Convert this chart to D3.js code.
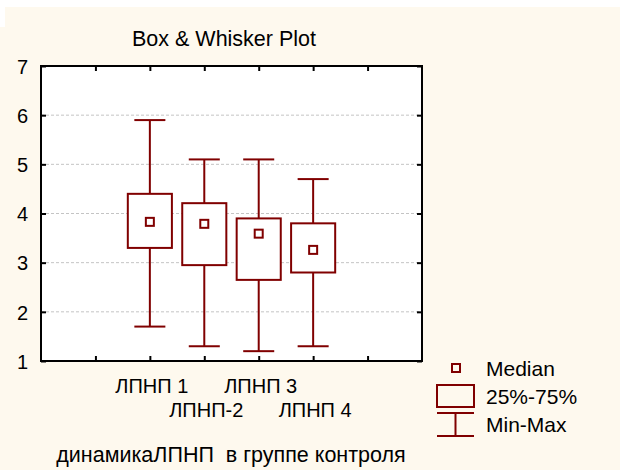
<!DOCTYPE html>
<html><head><meta charset="utf-8">
<script src="https://cdn.jsdelivr.net/npm/d3@7"></script>
<style>body{margin:0;background:#fff}svg{display:block}text{font-family:"Liberation Sans",Arial,sans-serif;fill:#000}</style>
</head><body><svg id="c" width="620" height="470"></svg>
<script>
const categories = ["ЛПНП 1", "ЛПНП-2", "ЛПНП 3", "ЛПНП 4"];
const minVals    = [1.7, 1.3, 1.2, 1.3];
const q1Vals     = [3.3, 2.95, 2.65, 2.8];
const medianVals = [3.83, 3.79, 3.59, 3.26];
const q3Vals     = [4.4, 4.21, 3.9, 3.8];
const maxVals    = [5.9, 5.1, 5.1, 4.7];
const yTicks     = [1, 2, 3, 4, 5, 6, 7];
const legendLabels = ["Median", "25%-75%", "Min-Max"];
const title = "Box & Whisker Plot";
const xTitle = "динамикаЛПНП  в группе контроля";

const svg = d3.select("#c");
const red = "#800000";
// background
svg.append("rect").attr("width",620).attr("height",470).attr("fill","#fef9ee");
svg.append("rect").attr("width",620).attr("height",7).attr("fill","#fff");
svg.append("rect").attr("width",5).attr("height",27).attr("fill","#fff");

const L=41, R=422, T=66, B=361;
const nSlots = categories.length + 3;
const x = d3.scaleLinear().domain([0, nSlots]).range([L, R]);
const y = d3.scaleLinear().domain([1, 7]).range([B, T]);
const step = x(1) - x(0);
const pos = i => x(i + 2);

svg.append("rect").attr("x",L).attr("y",T).attr("width",R-L).attr("height",B-T).attr("fill","#fff");

// gridlines
svg.append("g").selectAll("line").data(yTicks.slice(1,-1)).join("line")
  .attr("x1",L).attr("x2",R).attr("y1",d=>y(d)).attr("y2",d=>y(d))
  .attr("stroke","#c4c4c4").attr("stroke-width",1).attr("stroke-dasharray","3,2");

// axes with inward ticks
const tickIdx = d3.range(1, nSlots);
const axB = d3.axisBottom(x).tickValues(tickIdx).tickSize(-5).tickFormat("");
const axT = d3.axisTop(x).tickValues(tickIdx).tickSize(-5).tickFormat("");
const axL = d3.axisLeft(y).tickValues(yTicks).tickSize(-5).tickPadding(13).tickFormat(d3.format("d"));
const axR = d3.axisRight(y).tickValues(yTicks).tickSize(-5).tickFormat("");
function style(g){ g.select(".domain").remove(); g.selectAll("line").attr("stroke","#000").attr("stroke-width",2); }
svg.append("g").attr("transform",`translate(0,${B})`).call(axB).call(style);
svg.append("g").attr("transform",`translate(0,${T})`).call(axT).call(style);
const gl = svg.append("g").attr("transform",`translate(${L},0)`).call(axL).call(style);
gl.selectAll("text").attr("font-size",20).attr("fill","#000").attr("font-family","Liberation Sans, Arial, sans-serif").attr("dy","0.36em");
svg.append("g").attr("transform",`translate(${R},0)`).call(axR).call(style);
svg.append("rect").attr("x",L).attr("y",T).attr("width",R-L).attr("height",B-T)
  .attr("fill","none").attr("stroke","#000").attr("stroke-width",2);

// boxes
const bw = step*0.81, cw = step*0.57;
const g = svg.append("g").selectAll("g").data(categories).join("g");
g.append("line").attr("x1",(d,i)=>pos(i)).attr("x2",(d,i)=>pos(i))
  .attr("y1",(d,i)=>y(minVals[i])).attr("y2",(d,i)=>y(maxVals[i]))
  .attr("stroke",red).attr("stroke-width",2);
g.append("line").attr("x1",(d,i)=>pos(i)-cw/2).attr("x2",(d,i)=>pos(i)+cw/2)
  .attr("y1",(d,i)=>y(minVals[i])).attr("y2",(d,i)=>y(minVals[i])).attr("stroke",red).attr("stroke-width",2);
g.append("line").attr("x1",(d,i)=>pos(i)-cw/2).attr("x2",(d,i)=>pos(i)+cw/2)
  .attr("y1",(d,i)=>y(maxVals[i])).attr("y2",(d,i)=>y(maxVals[i])).attr("stroke",red).attr("stroke-width",2);
g.append("rect").attr("x",(d,i)=>pos(i)-bw/2).attr("width",bw)
  .attr("y",(d,i)=>y(q3Vals[i])).attr("height",(d,i)=>y(q1Vals[i])-y(q3Vals[i]))
  .attr("fill","#fff").attr("stroke",red).attr("stroke-width",2);
g.append("rect").attr("x",(d,i)=>pos(i)-4).attr("width",8)
  .attr("y",(d,i)=>y(medianVals[i])-4).attr("height",8)
  .attr("fill","#fff").attr("stroke",red).attr("stroke-width",2);

// category labels
svg.append("g").selectAll("text").data(categories).join("text")
  .attr("x",(d,i)=>pos(i)+2).attr("y",(d,i)=> i%2===0 ? 393 : 417)
  .attr("text-anchor","middle").attr("font-size",20).text(d=>d);

// titles
svg.append("text").attr("x",224).attr("y",46).attr("text-anchor","middle").attr("font-size",21.5).text(title);
svg.append("text").attr("x",231).attr("y",462).attr("text-anchor","middle").attr("font-size",21.5)
  .style("white-space","pre").text(xTitle);

// legend
const lx=437, lw=37;
svg.append("rect").attr("x",lx+15).attr("y",364).attr("width",8).attr("height",8)
  .attr("fill","none").attr("stroke",red).attr("stroke-width",2);
svg.append("rect").attr("x",lx).attr("y",385).attr("width",lw).attr("height",22)
  .attr("fill","none").attr("stroke",red).attr("stroke-width",2);
svg.append("line").attr("x1",lx).attr("x2",lx+lw).attr("y1",413).attr("y2",413).attr("stroke",red).attr("stroke-width",2);
svg.append("line").attr("x1",lx).attr("x2",lx+lw).attr("y1",436).attr("y2",436).attr("stroke",red).attr("stroke-width",2);
svg.append("line").attr("x1",lx+lw/2).attr("x2",lx+lw/2).attr("y1",413).attr("y2",436).attr("stroke",red).attr("stroke-width",2);
svg.append("g").selectAll("text").data(legendLabels).join("text")
  .attr("x",486).attr("y",(d,i)=>376+i*28).attr("font-size",21).text(d=>d);
</script></body></html>
